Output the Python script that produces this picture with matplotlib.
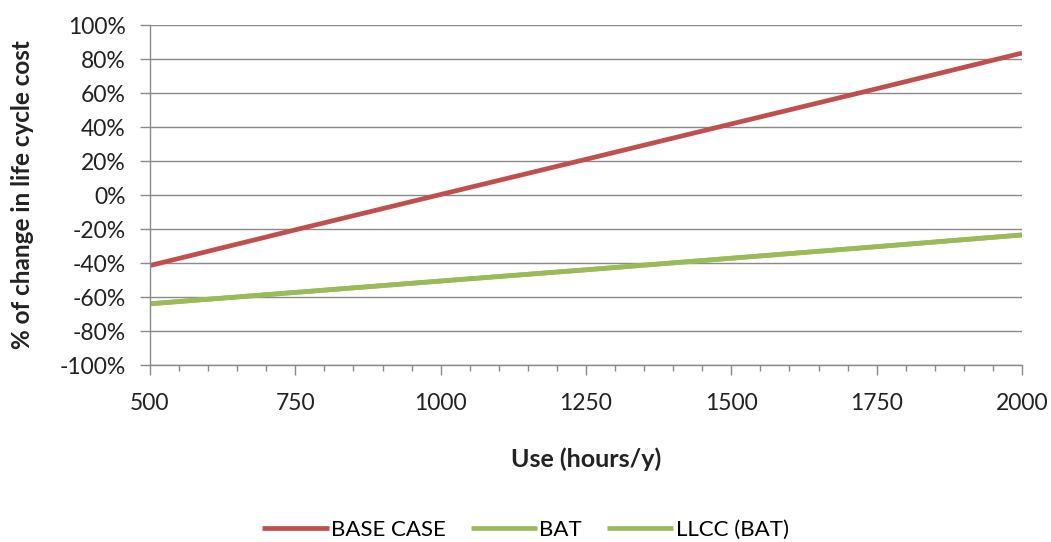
import matplotlib.pyplot as plt
from matplotlib.ticker import FuncFormatter, MultipleLocator

hours = [500, 750, 1000, 1250, 1500, 1750, 2000]
base_case = [-41.5, -20.5, 0.3, 21.0, 41.8, 62.5, 83.5]
bat = [-64.0, -57.3, -50.6, -44.0, -37.2, -30.4, -23.5]
llcc_bat = [-64.0, -57.3, -50.6, -44.0, -37.2, -30.4, -23.5]

plt.rcParams['font.family'] = ['Lato', 'DejaVu Sans']

fig = plt.figure(figsize=(10.51, 5.42), dpi=100)
ax = fig.add_axes([150 / 1051, 1 - 365 / 542, 872 / 1051, 340 / 542])

ax.plot(hours, base_case, color='#C0504D', lw=3.4, label='BASE CASE', solid_capstyle='butt')
ax.plot(hours, bat, color='#9BBB59', lw=3.4, label='BAT', solid_capstyle='butt')
ax.plot(hours, llcc_bat, color='#9BBB59', lw=3.4, label='LLCC (BAT)', solid_capstyle='butt')

ax.set_xlim(500, 2000)
ax.set_ylim(-100, 100)
ax.xaxis.set_major_locator(MultipleLocator(250))
ax.xaxis.set_minor_locator(MultipleLocator(50))
ax.yaxis.set_major_locator(MultipleLocator(20))
ax.yaxis.set_major_formatter(FuncFormatter(lambda v, p: f'{v:.0f}%'))

ax.grid(axis='y', color='#8a8a8a', lw=1.0)
ax.set_axisbelow(True)
for s in ['top', 'right']:
    ax.spines[s].set_visible(False)
for s in ['left', 'bottom']:
    ax.spines[s].set_color('#8a8a8a')
    ax.spines[s].set_linewidth(1.0)

ax.tick_params(axis='y', which='major', length=7.5, width=1.0, color='#8a8a8a',
               labelsize=16.5, pad=10, labelcolor='#222222')
ax.tick_params(axis='x', which='major', length=7, width=1.0, color='#8a8a8a',
               labelsize=16.5, pad=13, labelcolor='#222222')
ax.tick_params(axis='x', which='minor', length=4, width=1.0, color='#8a8a8a')

ax.set_xlabel('Use (hours/y)', fontsize=18, fontweight='bold', labelpad=24, color='#222222')
ax.set_ylabel('% of change in life cycle cost', fontsize=17.5, fontweight='bold',
              labelpad=18, color='#222222')

fig.legend(loc='center', bbox_to_anchor=(0.5, 1 - 530 / 542), ncol=3, frameon=False,
           fontsize=16, handlelength=3.0, columnspacing=1.1, handletextpad=0.1)

fig.savefig('out.png', dpi=100)
